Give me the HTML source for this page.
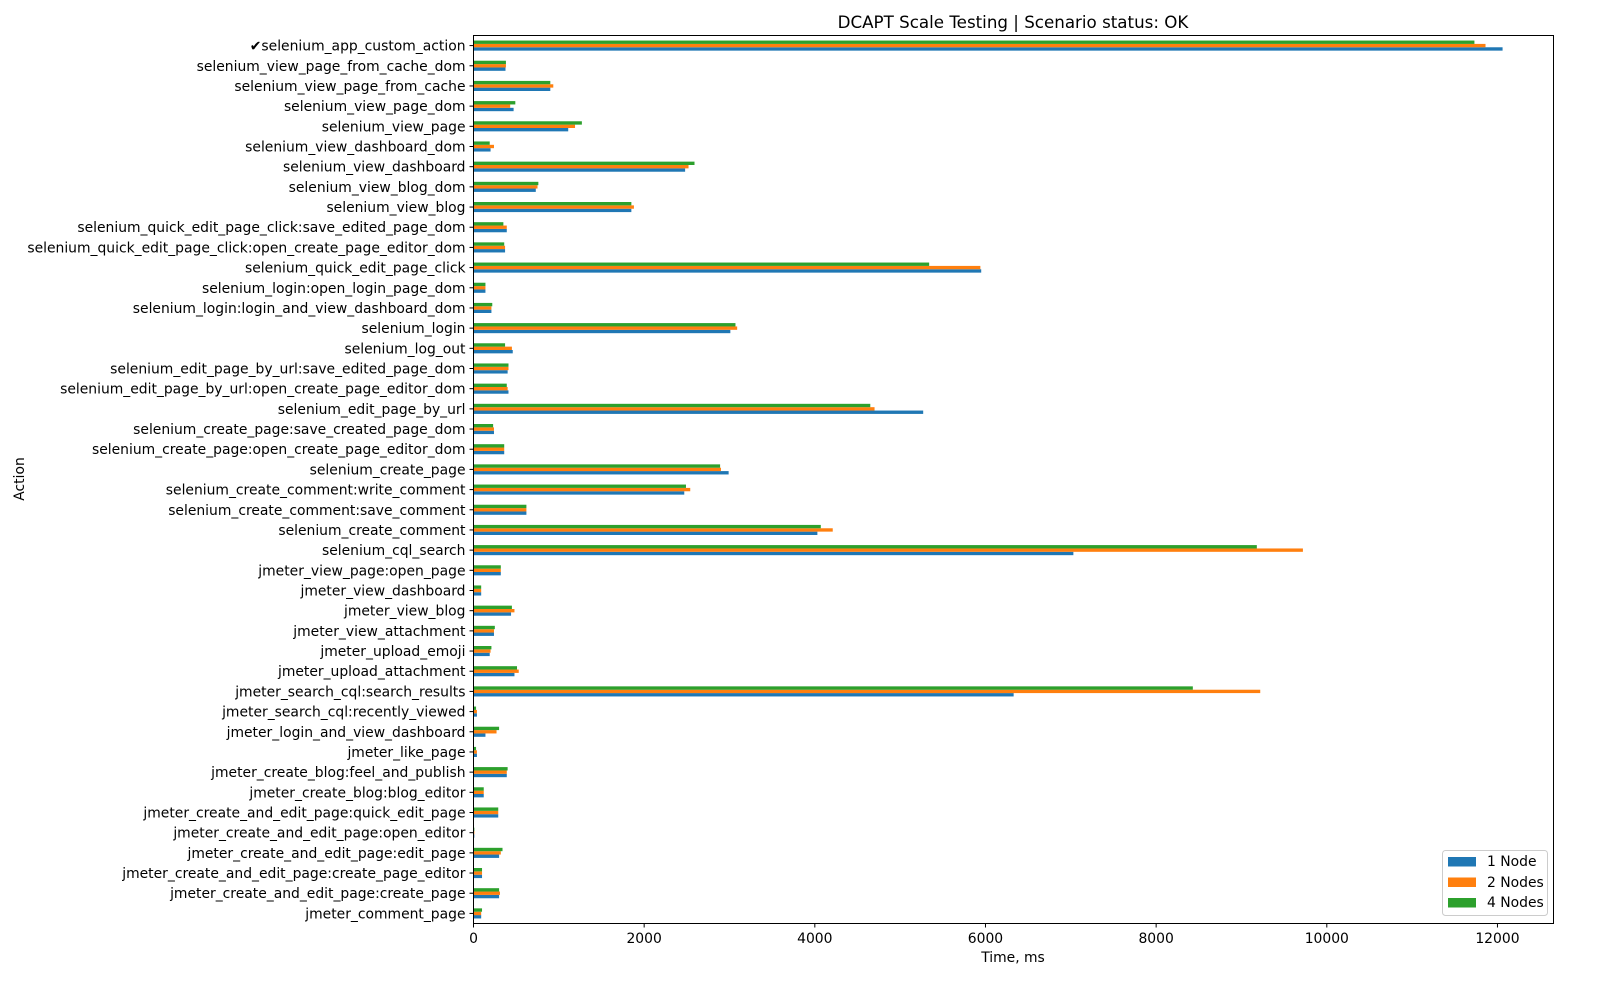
<!DOCTYPE html>
<html><head><meta charset="utf-8"><style>
html,body{margin:0;padding:0;background:#fff;overflow:hidden;width:1600px;height:1000px;}
svg{display:block;}
svg text{font-family:"DejaVu Sans","Liberation Sans",sans-serif;fill:#000;}
</style></head><body>
<svg id="s" width="1600" height="1000" viewBox="0 0 1600 1000" xmlns="http://www.w3.org/2000/svg">
<rect width="1600" height="1000" fill="#fff"/>
<text x="1013" y="28" font-size="16.7" text-anchor="middle">DCAPT Scale Testing | Scenario status: OK</text>
<text x="1013" y="962" font-size="13.9" text-anchor="middle">Time, ms</text>
<text transform="translate(24,479) rotate(-90)" font-size="13.9" text-anchor="middle">Action</text>
<g id="g"></g>
<rect x="473.5" y="35.5" width="1080" height="888" fill="none" stroke="#000" stroke-width="1"/>
<g>
<rect x="1442.5" y="850.5" width="105" height="65" fill="#fff" stroke="#ccc" rx="3"/>
<rect x="1448" y="857" width="28" height="9.5" fill="#1f77b4"/><text x="1487" y="866" font-size="13.9">1 Node</text>
<rect x="1448" y="877.5" width="28" height="9.5" fill="#ff7f0e"/><text x="1487" y="887" font-size="13.9">2 Nodes</text>
<rect x="1448" y="898" width="28" height="9.5" fill="#2ca02c"/><text x="1487" y="907" font-size="13.9">4 Nodes</text>
</g>
</svg>
<script>
(function(){
var D=[
["✔selenium_app_custom_action",12060,11860,11730],
["selenium_view_page_from_cache_dom",375,380,380],
["selenium_view_page_from_cache",900,935,900],
["selenium_view_page_dom",470,430,490],
["selenium_view_page",1110,1190,1270],
["selenium_view_dashboard_dom",200,240,190],
["selenium_view_dashboard",2480,2520,2590],
["selenium_view_blog_dom",730,750,760],
["selenium_view_blog",1850,1880,1850],
["selenium_quick_edit_page_click:save_edited_page_dom",390,390,350],
["selenium_quick_edit_page_click:open_create_page_editor_dom",370,370,360],
["selenium_quick_edit_page_click",5950,5940,5340],
["selenium_login:open_login_page_dom",140,140,140],
["selenium_login:login_and_view_dashboard_dom",210,210,220],
["selenium_login",3010,3090,3070],
["selenium_log_out",460,450,370],
["selenium_edit_page_by_url:save_edited_page_dom",400,410,410],
["selenium_edit_page_by_url:open_create_page_editor_dom",410,400,390],
["selenium_edit_page_by_url",5270,4700,4650],
["selenium_create_page:save_created_page_dom",240,240,230],
["selenium_create_page:open_create_page_editor_dom",360,360,360],
["selenium_create_page",2990,2900,2890],
["selenium_create_comment:write_comment",2470,2540,2490],
["selenium_create_comment:save_comment",620,620,620],
["selenium_create_comment",4030,4210,4070],
["selenium_cql_search",7030,9720,9180],
["jmeter_view_page:open_page",320,320,320],
["jmeter_view_dashboard",90,90,90],
["jmeter_view_blog",440,480,450],
["jmeter_view_attachment",240,240,250],
["jmeter_upload_emoji",190,200,210],
["jmeter_upload_attachment",480,530,510],
["jmeter_search_cql:search_results",6330,9220,8430],
["jmeter_search_cql:recently_viewed",40,40,30],
["jmeter_login_and_view_dashboard",140,270,300],
["jmeter_like_page",40,40,30],
["jmeter_create_blog:feel_and_publish",390,390,400],
["jmeter_create_blog:blog_editor",120,120,120],
["jmeter_create_and_edit_page:quick_edit_page",290,290,290],
["jmeter_create_and_edit_page:open_editor",10,10,10],
["jmeter_create_and_edit_page:edit_page",300,320,340],
["jmeter_create_and_edit_page:create_page_editor",100,100,100],
["jmeter_create_and_edit_page:create_page",300,310,300],
["jmeter_comment_page",90,90,100]];
var NS="http://www.w3.org/2000/svg",g=document.getElementById("g");
function el(t,a,txt){var e=document.createElementNS(NS,t);for(var k in a)e.setAttribute(k,a[k]);if(txt)e.textContent=txt;g.appendChild(e);return e;}
var x0=473.5,kk=0.08533,axTop=35.5,step=888/44,C=["#1f77b4","#ff7f0e","#2ca02c"],bh=step*0.5/3;
D.forEach(function(d,i){var cy=axTop+step*(i+0.5);
 for(var j=0;j<3;j++){var y=cy+step*0.25-(j+1)*bh;el("rect",{x:x0,y:y,width:Math.max(d[j+1]*kk,0.5),height:bh,fill:C[j]});}
 el("line",{x1:x0-4,x2:x0,y1:cy,y2:cy,stroke:"#000"});
 el("text",{x:x0-8,y:cy+5,"font-size":13.9,"text-anchor":"end"},d[0]);
});
for(var v=0;v<=12000;v+=2000){var x=x0+v*kk;el("line",{x1:x,x2:x,y1:923.5,y2:927.5,stroke:"#000"});el("text",{x:x,y:943,"font-size":13.9,"text-anchor":"middle"},String(v));}
})();
</script>
</body></html>
